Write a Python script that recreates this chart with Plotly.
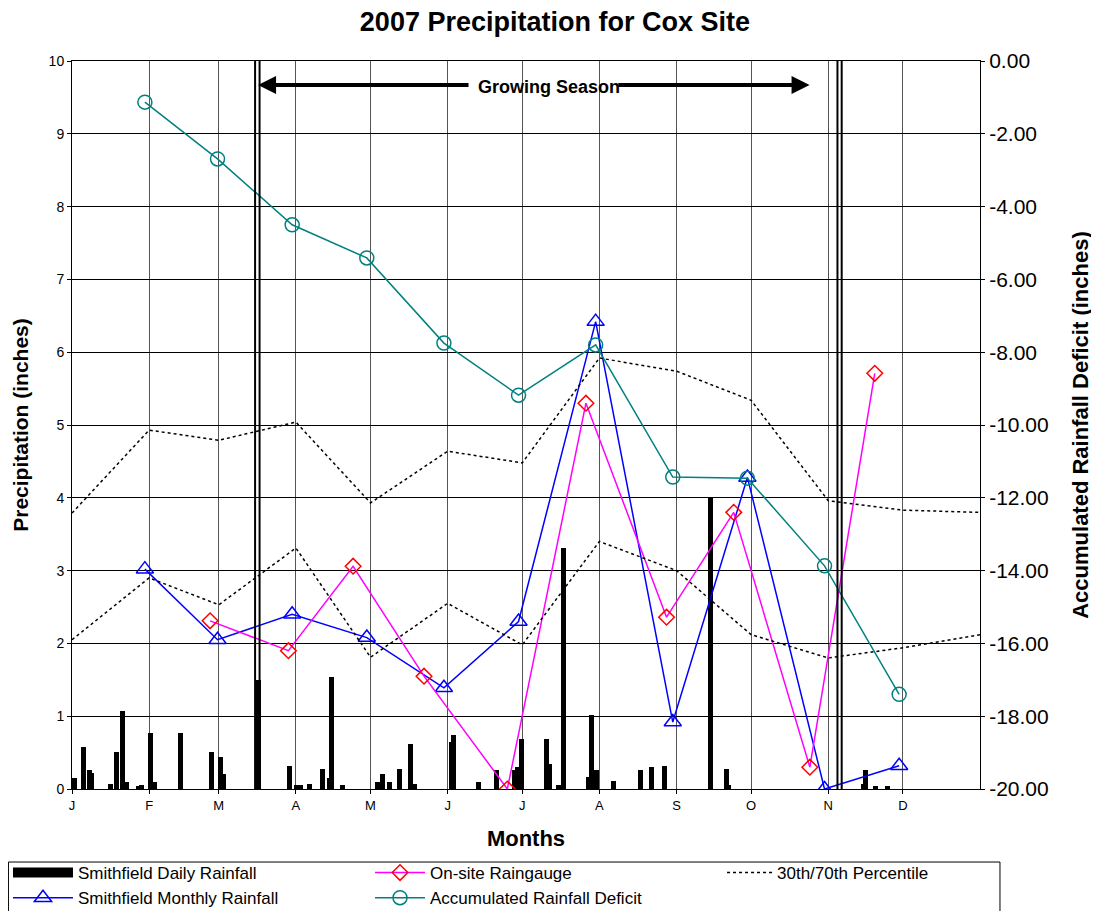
import plotly.graph_objects as go

# ---------------- data ----------------
month_labels = ["J", "F", "M", "A", "M", "J", "J", "A", "S", "O", "N", "D"]
month_start_days = [0, 31, 59, 90, 120, 151, 181, 212, 243, 273, 304, 334]

daily_days = [1, 4.5, 7, 8, 15.5, 17.7, 20.4, 22, 26.6, 28, 31.4, 33, 43.8, 55.9, 59.6, 61,
              74.9, 87.6, 90.3, 92, 95.6, 100.7, 103.7, 104.4, 108.8, 122.7, 124.9, 127.5,
              131.6, 135.9, 137.6, 152.6, 153.5, 163.3, 170.7, 177.8, 179, 180.6, 190.8,
              191.8, 195.5, 197.7, 207.8, 208.9, 211, 217.6, 228.7, 233.1, 238, 256.8,
              262.9, 264, 318, 319, 323, 328]
daily_rain = [0.15, 0.58, 0.26, 0.22, 0.07, 0.51, 1.07, 0.10, 0.04, 0.05, 0.77, 0.09, 0.77,
              0.51, 0.44, 0.20, 1.50, 0.32, 0.05, 0.05, 0.07, 0.28, 0.15, 1.54, 0.05, 0.09,
              0.20, 0.09, 0.28, 0.62, 0.07, 0.65, 0.74, 0.10, 0.26, 0.26, 0.30, 0.69, 0.69,
              0.35, 0.05, 3.31, 0.17, 1.02, 0.26, 0.11, 0.26, 0.30, 0.31, 4.00, 0.28, 0.05,
              0.07, 0.26, 0.04, 0.04]

monthly_days = [29.3, 58.5, 88.5, 118.5, 149.5, 179.5, 210.5, 241.5, 271.5, 302.5, 332.5]
monthly_rain = [3.02, 2.05, 2.40, 2.08, 1.39, 2.30, 6.42, 0.92, 4.28, 0.00, 0.32]
deficit = [-1.13, -2.69, -4.50, -5.41, -7.75, -9.18, -7.80, -11.43, -11.46, -13.87, -17.40]

onsite_days = [55.5, 87, 113, 141.5, 175, 206.6, 239, 266, 296.6, 322.7]
onsite_rain = [2.31, 1.90, 3.06, 1.55, 0.00, 5.30, 2.36, 3.80, 0.30, 5.71]

pct_days = [0, 31, 59, 90, 120, 151, 181, 212, 243, 273, 304, 334, 365]
pct70 = [3.79, 4.93, 4.79, 5.04, 3.93, 4.64, 4.48, 5.92, 5.74, 5.34, 3.96, 3.83, 3.80]
pct30 = [2.05, 2.90, 2.53, 3.31, 1.81, 2.55, 1.98, 3.40, 3.00, 2.12, 1.80, 1.94, 2.12]

growing_season_lines = [73.6, 75.4, 307.7, 309.4]
growing_arrow = {"left_tail": 160, "left_head": 74.8, "right_tail": 219, "right_head": 296.5,
                 "level": 9.67, "label_day": 191.7}

right_ticks = [0, -2, -4, -6, -8, -10, -12, -14, -16, -18, -20]

FONT = "Arial, 'Liberation Sans', sans-serif"

fig = go.Figure()

fig.add_trace(go.Bar(x=daily_days, y=daily_rain, width=2.0, name="Smithfield Daily Rainfall",
                     showlegend=False,
                     marker=dict(color="black", line=dict(width=0))))
# legend key for the daily bars (wide black block, as in the original)
fig.add_trace(go.Scatter(x=[None], y=[None], mode="lines", name="Smithfield Daily Rainfall",
                         line=dict(color="black", width=10), legend="legend",
                         hoverinfo="skip"))
fig.add_trace(go.Scatter(x=monthly_days, y=monthly_rain, mode="lines+markers",
                         name="Smithfield Monthly Rainfall", legend="legend",
                         line=dict(color="#0000FF", width=1.5),
                         marker=dict(symbol="triangle-up-open", size=15, color="#0000FF",
                                     line=dict(width=1.5))))
fig.add_trace(go.Scatter(x=onsite_days, y=onsite_rain, mode="lines+markers",
                         name="On-site Raingauge", legend="legend2",
                         line=dict(color="#FF00FF", width=1.5),
                         marker=dict(symbol="diamond-open", size=12, color="#FF0000",
                                     line=dict(width=1.5))))
fig.add_trace(go.Scatter(x=monthly_days, y=deficit, mode="lines+markers", yaxis="y2",
                         name="Accumulated Rainfall Deficit", legend="legend2",
                         line=dict(color="#008080", width=1.5),
                         marker=dict(symbol="circle-open", size=14, color="#008080",
                                     line=dict(width=1.5))))
fig.add_trace(go.Scatter(x=pct_days, y=pct70, mode="lines", name="30th/70th Percentile",
                         legend="legend3",
                         line=dict(color="black", width=1.5, dash="dot")))
fig.add_trace(go.Scatter(x=pct_days, y=pct30, mode="lines", name="30th/70th Percentile",
                         showlegend=False,
                         line=dict(color="black", width=1.5, dash="dot")))

shapes = []
for d in growing_season_lines:
    shapes.append(dict(type="line", xref="x", yref="paper", x0=d, x1=d, y0=0, y1=1,
                       line=dict(color="black", width=2)))
# legend frame
shapes.append(dict(type="rect", xref="paper", yref="paper", x0=-0.0700, x1=1.022,
                   y0=-0.1690, y1=-0.1003, line=dict(color="black", width=1),
                   fillcolor="rgba(0,0,0,0)", layer="above"))
fig.update_layout(shapes=shapes)

ga = growing_arrow
for tail, head in [(ga["left_tail"], ga["left_head"]), (ga["right_tail"], ga["right_head"])]:
    fig.add_annotation(x=head, y=ga["level"], ax=tail, ay=ga["level"], xref="x", yref="y",
                       axref="x", ayref="y", text="", showarrow=True, arrowhead=2,
                       arrowsize=0.9, arrowwidth=4, arrowcolor="black")
fig.add_annotation(x=ga["label_day"], y=ga["level"], xref="x", yref="y",
                   text="<b>Growing Season</b>",
                   showarrow=False, font=dict(family=FONT, size=18, color="black"),
                   yshift=-2)

legend_common = dict(orientation="v", yanchor="top", y=-0.0907, xanchor="left",
                     bgcolor="rgba(0,0,0,0)", borderwidth=0,
                     font=dict(size=17, family=FONT, color="black"), tracegroupgap=0)

fig.update_layout(
    width=1091, height=903,
    margin=dict(l=64, r=119, t=53, b=122, autoexpand=False),
    paper_bgcolor="white", plot_bgcolor="white",
    font=dict(family=FONT, color="black"),
    title=dict(text="<b>2007 Precipitation for Cox Site</b>", x=0.5013, xanchor="center",
               y=0.9845, yanchor="middle", font=dict(size=27, family=FONT, color="black")),
    xaxis=dict(range=[0, 365], tickvals=month_start_days, ticktext=month_labels,
               showgrid=True, gridcolor="#555555", gridwidth=1, zeroline=False,
               showline=True, linecolor="black", linewidth=1, mirror=True,
               ticks="outside", ticklen=4, tickcolor="black",
               tickfont=dict(size=13), title=dict(text="<b>Months</b>", font=dict(size=22),
                                                 standoff=19)),
    yaxis=dict(range=[0, 10], dtick=1, showgrid=True, gridcolor="black", gridwidth=1,
               zeroline=False, showline=True, linecolor="black", linewidth=1, mirror=True,
               ticks="outside", ticklen=4, tickcolor="black", tickfont=dict(size=14),
               title=dict(text="<b>Precipitation (inches)</b>", font=dict(size=21),
                          standoff=14)),
    yaxis2=dict(range=[-20, 0], overlaying="y", side="right", showgrid=False, zeroline=False,
                tickvals=right_ticks, ticktext=["%.2f" % v for v in right_ticks],
                ticks="outside", ticklen=4, tickcolor="black", tickfont=dict(size=21),
                title=dict(text="<b>Accumulated Rainfall Deficit (inches)</b>",
                           font=dict(size=22), standoff=24)),
    bargap=0,
    showlegend=True,
    legend=dict(x=-0.0705, itemwidth=60, **legend_common),
    legend2=dict(x=0.3282, itemwidth=50, **legend_common),
    legend3=dict(x=0.7159, itemwidth=45, **legend_common),
)

fig.write_html("out.html")
